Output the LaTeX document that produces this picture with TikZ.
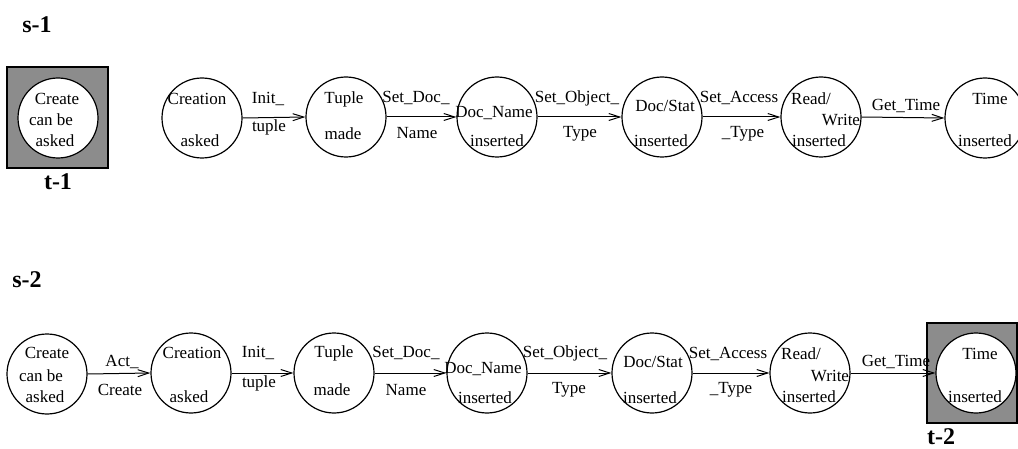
\documentclass[tikz,border=0pt]{standalone}
\usepackage{fontspec}
\setmainfont{Liberation Serif}
\usepackage{xcolor}
\usepackage{tikz}
\usetikzlibrary{arrows.meta,positioning}
\definecolor{tokengray}{RGB}{140,140,140}

\begin{document}
\begin{tikzpicture}[x=0.5pt, y=-0.5pt,
    state/.style={circle, draw, line width=0.6pt, minimum size=40pt, inner sep=0pt},
    txt/.style={inner sep=0pt, font=\fontsize{8.5}{10}\selectfont},
    tag/.style={inner sep=0pt, font=\large\bfseries},
    trans/.style={-{Straight Barb[length=5.5pt,width=3.5pt]}, line width=0.5pt}]
    \useasboundingbox (0,0) rectangle (1018,449);

    % Sequence labels
    \node[tag] (s1) at (37,25) {s-1};
    \node[tag] (s2) at (27,280) {s-2};

    % Token boxes
    \draw[fill=tokengray, line width=0.6pt] (7,67) rectangle (108,168);
    \draw[fill=tokengray, line width=0.6pt] (927,323) rectangle (1017,423);
    \node[tag] (t1) at (58,182) {t-1};
    \node[tag] (t2) at (941,437) {t-2};

    % States, s-1
    \node[state, fill=white] (ask1) at (58,118) {};
    \node[state] (crt1) at (202,118) {};
    \node[state] (tup1) at (346,117) {};
    \node[state] (dnm1) at (497,117) {};
    \node[state] (dst1) at (662,117) {};
    \node[state] (rw1) at (821,117) {};
    \node[state] (tim1) at (985,118) {};

    \node[txt] (ask1a) at (57,99) {Create};
    \node[txt] (ask1b) at (51,120) {can be};
    \node[txt] (ask1c) at (55,141) {asked};
    \node[txt] (crt1a) at (197,99) {Creation};
    \node[txt] (crt1b) at (200,141) {asked};
    \node[txt] (tup1a) at (344,99) {Tuple};
    \node[txt] (tup1b) at (343,134) {made};
    \node[txt] (dnm1a) at (494,113) {Doc\_Name};
    \node[txt] (dnm1b) at (497,141) {inserted};
    \node[txt] (dst1a) at (665,106) {Doc/Stat};
    \node[txt] (dst1b) at (661,141) {inserted};
    \node[txt] (rw1a) at (811,99) {Read/};
    \node[txt] (rw1b) at (841,120) {Write};
    \node[txt] (rw1c) at (819,141) {inserted};
    \node[txt] (tim1a) at (990,99) {Time};
    \node[txt] (tim1b) at (985,141) {inserted};

    % Transitions, s-1
    \draw[trans] (crt1.east) -- (tup1.west);
    \draw[trans] (tup1.east) -- (dnm1.west);
    \draw[trans] (dnm1.east) -- (dst1.west);
    \draw[trans] (dst1.east) -- (rw1.west);
    \draw[trans] (rw1.east) -- (tim1.west);

    \node[txt] (init1a) at (268,99) {Init\_};
    \node[txt] (init1b) at (269,127) {tuple};
    \node[txt] (sdoc1a) at (416,98) {Set\_Doc\_};
    \node[txt] (sdoc1b) at (417,133) {Name};
    \node[txt] (sobj1a) at (577,98) {Set\_Object\_};
    \node[txt] (sobj1b) at (580,134) {Type};
    \node[txt] (sacc1a) at (739,98) {Set\_Access};
    \node[txt] (sacc1b) at (743,134) {\_Type};
    \node[txt] (gtim1) at (906,106) {Get\_Time};

    % States, s-2
    \node[state] (ask2) at (47,374) {};
    \node[state] (crt2) at (191,373) {};
    \node[state] (tup2) at (334,373) {};
    \node[state] (dnm2) at (487,373) {};
    \node[state] (dst2) at (652,373) {};
    \node[state] (rw2) at (810,373) {};
    \node[state, fill=white] (tim2) at (976,373) {};

    \node[txt] (ask2a) at (47,353) {Create};
    \node[txt] (ask2b) at (41,376) {can be};
    \node[txt] (ask2c) at (45,397) {asked};
    \node[txt] (crt2a) at (192,353) {Creation};
    \node[txt] (crt2b) at (189,397) {asked};
    \node[txt] (tup2a) at (334,353) {Tuple};
    \node[txt] (tup2b) at (332,390) {made};
    \node[txt] (dnm2a) at (483,369) {Doc\_Name};
    \node[txt] (dnm2b) at (485,398) {inserted};
    \node[txt] (dst2a) at (653,362) {Doc/Stat};
    \node[txt] (dst2b) at (650,398) {inserted};
    \node[txt] (rw2a) at (801,354) {Read/};
    \node[txt] (rw2b) at (830,376) {Write};
    \node[txt] (rw2c) at (809,397) {inserted};
    \node[txt] (tim2a) at (980,354) {Time};
    \node[txt] (tim2b) at (975,397) {inserted};

    % Transitions, s-2
    \draw[trans] (ask2.east) -- (crt2.west);
    \draw[trans] (crt2.east) -- (tup2.west);
    \draw[trans] (tup2.east) -- (dnm2.west);
    \draw[trans] (dnm2.east) -- (dst2.west);
    \draw[trans] (dst2.east) -- (rw2.west);
    \draw[trans] (rw2.east) -- (tim2.west);

    \node[txt] (act2a) at (122,362) {Act\_};
    \node[txt] (act2b) at (120,390) {Create};
    \node[txt] (init2a) at (258,353) {Init\_};
    \node[txt] (init2b) at (259,383) {tuple};
    \node[txt] (sdoc2a) at (406,353) {Set\_Doc\_};
    \node[txt] (sdoc2b) at (406,390) {Name};
    \node[txt] (sobj2a) at (565,353) {Set\_Object\_};
    \node[txt] (sobj2b) at (569,390) {Type};
    \node[txt] (sacc2a) at (728,354) {Set\_Access};
    \node[txt] (sacc2b) at (731,390) {\_Type};
    \node[txt] (gtim2) at (896,362) {Get\_Time};
\end{tikzpicture}
\end{document}
